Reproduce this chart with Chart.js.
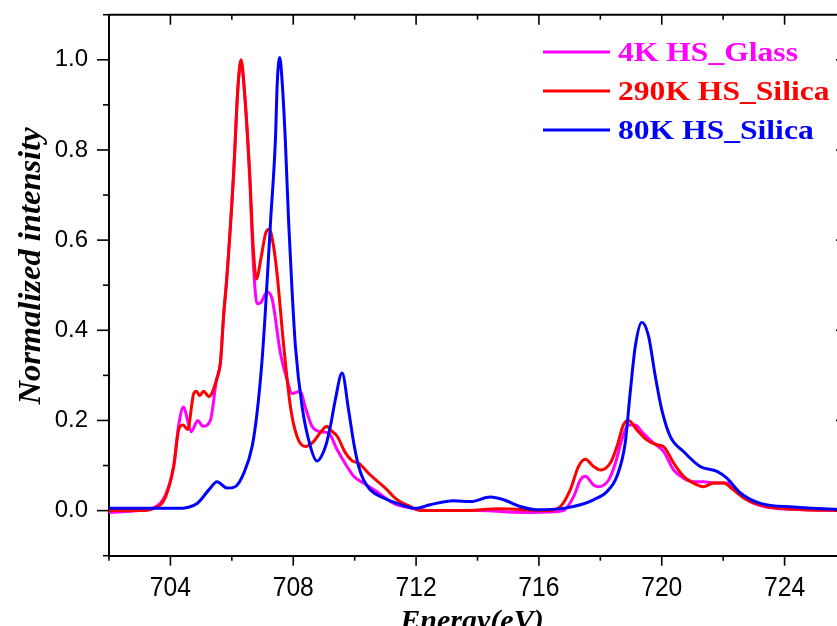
<!DOCTYPE html>
<html>
<head>
<meta charset="utf-8">
<script src="https://cdn.jsdelivr.net/npm/chart.js@4/dist/chart.umd.min.js"></script>
<style>
  html, body { margin: 0; padding: 0; background: #fff; overflow: hidden; }
</style>
</head>
<body>
<canvas id="chart" width="860" height="626"></canvas>
<script>
// Series labels and colours (legend order).
const seriesLabels = ['4K HS_Glass', '290K HS_Silica', '80K HS_Silica'];
const seriesColors = ['#ff00ff', '#ff0000', '#0000ff'];

// Axis tick labels.
const xTicks = [704, 708, 712, 716, 720, 724];
const yTicks = [0.0, 0.2, 0.4, 0.6, 0.8, 1.0];

// 4K HS_Glass, energy (eV) and normalized intensity.
const glassE = [702.0, 703.0, 703.46, 703.84, 704.11, 704.27, 704.43, 704.56, 704.68, 704.89,
  705.06, 705.3, 705.5, 705.63, 705.74, 705.83, 706.06, 706.2, 706.3, 706.4,
  706.58, 706.7, 706.82, 706.95, 707.15, 707.31, 707.58, 707.8, 707.96, 708.23,
  708.39, 708.61, 708.88, 709.15, 709.43, 709.75, 709.97, 710.29, 710.73, 711.27,
  711.81, 712.5, 714.0, 715.5, 716.3, 716.8, 717.13, 717.35, 717.51, 717.78,
  717.94, 718.27, 718.49, 718.7, 718.92, 719.14, 719.35, 719.73, 720.06, 720.39,
  720.71, 721.04, 721.36, 721.79, 722.12, 722.44, 722.88, 723.74, 726.0];
const glassI = [-0.004, 0.0, 0.006, 0.035, 0.1, 0.19, 0.23, 0.2, 0.175, 0.2,
  0.187, 0.2, 0.29, 0.33, 0.44, 0.51, 0.75, 0.94, 0.995, 0.94,
  0.74, 0.55, 0.459, 0.462, 0.485, 0.47, 0.35, 0.29, 0.26, 0.265,
  0.23, 0.187, 0.175, 0.172, 0.135, 0.098, 0.076, 0.061, 0.042, 0.016,
  0.006, 0.0, 0.0, -0.004, -0.003, 0.0, 0.031, 0.068, 0.076, 0.057,
  0.053, 0.068, 0.105, 0.157, 0.19, 0.19, 0.175, 0.15, 0.131, 0.09,
  0.072, 0.064, 0.064, 0.061, 0.061, 0.046, 0.02, 0.005, 0.0];

// 290K HS_Silica
const hotE = [702.0, 703.0, 703.46, 703.84, 704.11, 704.27, 704.41, 704.56, 704.76, 704.85,
  704.95, 705.08, 705.25, 705.5, 705.63, 705.74, 705.83, 706.06, 706.2, 706.3,
  706.4, 706.58, 706.7, 706.8, 706.95, 707.1, 707.22, 707.35, 707.47, 707.69,
  707.91, 708.12, 708.39, 708.66, 708.9, 709.1, 709.21, 709.43, 709.7, 709.91,
  710.13, 710.51, 711.0, 711.38, 711.81, 712.14, 713.5, 714.7, 716.3, 716.7,
  717.02, 717.29, 717.51, 717.78, 718.0, 718.32, 718.54, 718.75, 718.92, 719.19,
  719.51, 719.84, 720.06, 720.39, 720.71, 721.15, 721.36, 721.68, 722.01, 722.33,
  722.77, 723.42, 724.29, 726.0];
const hotI = [0.0, 0.0, 0.005, 0.03, 0.1, 0.18, 0.19, 0.18, 0.26, 0.265,
  0.255, 0.265, 0.253, 0.29, 0.33, 0.44, 0.51, 0.75, 0.94, 1.0,
  0.94, 0.75, 0.58, 0.514, 0.56, 0.615, 0.624, 0.59, 0.527, 0.365,
  0.23, 0.165, 0.142, 0.153, 0.175, 0.187, 0.179, 0.165, 0.128, 0.111,
  0.105, 0.079, 0.05, 0.024, 0.009, 0.0, 0.0, 0.004, 0.0, 0.009,
  0.046, 0.098, 0.114, 0.098, 0.09, 0.105, 0.142, 0.19, 0.2, 0.179,
  0.157, 0.146, 0.142, 0.105, 0.076, 0.057, 0.053, 0.061, 0.061, 0.046,
  0.024, 0.009, 0.003, 0.0];

// 80K HS_Silica
const coldE = [702.0, 703.0, 704.22, 704.87, 705.25, 705.52, 705.84, 706.11, 706.39, 706.66,
  706.82, 706.98, 707.09, 707.26, 707.42, 707.48, 707.56, 707.64, 707.74, 707.85,
  707.96, 708.07, 708.29, 708.56, 708.77, 709.05, 709.21, 709.37, 709.59, 709.8,
  709.97, 710.13, 710.29, 710.51, 710.94, 711.38, 711.97, 712.46, 713.22, 713.77,
  714.42, 714.85, 715.39, 715.94, 716.8, 717.35, 717.78, 718.21, 718.54, 718.81,
  718.97, 719.14, 719.35, 719.57, 719.79, 720.0, 720.28, 720.71, 721.25, 721.8,
  722.12, 722.56, 723.21, 724.29, 726.0];
const coldI = [0.005, 0.005, 0.005, 0.016, 0.046, 0.064, 0.05, 0.053, 0.083, 0.142,
  0.216, 0.33, 0.44, 0.64, 0.824, 0.95, 1.005, 0.95, 0.824, 0.64,
  0.49, 0.365, 0.23, 0.142, 0.11, 0.142, 0.187, 0.246, 0.305, 0.224,
  0.15, 0.098, 0.068, 0.046, 0.028, 0.016, 0.005, 0.013, 0.022, 0.02,
  0.03, 0.024, 0.009, 0.002, 0.005, 0.013, 0.024, 0.042, 0.076, 0.15,
  0.26, 0.365, 0.418, 0.387, 0.298, 0.224, 0.164, 0.131, 0.098, 0.087,
  0.072, 0.039, 0.016, 0.008, 0.002];

function toPoints(es, vs) {
    return es.map((e, i) => ({ x: e, y: vs[i] }));
}

const serif = '"Liberation Serif", "Times New Roman", serif';
const sans = '"Liberation Sans", Arial, sans-serif';

// Box, minor/major ticks, x tick labels, axis titles and the legend.
const frame = {
    id: 'frame',
    afterDraw(chart) {
        const ctx = chart.ctx;
        const a = chart.chartArea;
        const x = chart.scales.x;
        const y = chart.scales.y;
        const seg = (x0, y0, x1, y1) => { ctx.beginPath(); ctx.moveTo(x0, y0); ctx.lineTo(x1, y1); ctx.stroke(); };
        ctx.save();
        ctx.strokeStyle = '#000';
        ctx.lineWidth = 2;
        seg(a.left, a.top, a.right, a.top);
        seg(a.right, a.top, a.right, a.bottom);

        ctx.lineWidth = 1.6;
        for (let e = 702; e <= 726; e += 2) {
            const px = x.getPixelForValue(e);
            const major = e % 4 === 0;
            seg(px, a.bottom, px, a.bottom + (major ? 10 : 5));
            seg(px, a.top, px, a.top + (major ? 10 : 5));
        }
        for (let k = -1; k <= 11; k++) {
            const py = y.getPixelForValue(k / 10);
            const major = k % 2 === 0;
            seg(a.left - (major ? 12 : 6), py, a.left, py);
            seg(a.right - (major ? 10 : 5), py, a.right, py);
        }

        // x tick labels
        ctx.fillStyle = '#000';
        ctx.font = '26px ' + sans;
        ctx.textAlign = 'center';
        ctx.textBaseline = 'alphabetic';
        xTicks.forEach(v => {
            ctx.save();
            ctx.translate(x.getPixelForValue(v), 596);
            ctx.scale(0.95, 1.05);
            ctx.fillText(String(v), 0, 0);
            ctx.restore();
        });

        // axis titles
        ctx.font = 'bold italic 30px ' + serif;
        ctx.fillText('Energy(eV)', 472, 630);
        ctx.save();
        ctx.translate(40, 266);
        ctx.rotate(-Math.PI / 2);
        ctx.font = 'bold italic 32.5px ' + serif;
        ctx.fillText('Normalized intensity', 0, 0);
        ctx.restore();

        // legend
        ctx.font = 'bold 27px ' + serif;
        ctx.textAlign = 'left';
        chart.data.datasets.forEach((ds, i) => {
            const ly = 52 + i * 39;
            ctx.strokeStyle = ds.borderColor;
            ctx.lineWidth = 3;
            seg(543, ly, 610, ly);
            ctx.fillStyle = ds.borderColor;
            ctx.save();
            ctx.translate(618, ly + 9);
            ctx.scale(1.17, 1);
            ctx.fillText(ds.label, 0, 0);
            ctx.restore();
        });
        ctx.restore();
    }
};

const series = [toPoints(glassE, glassI), toPoints(hotE, hotI), toPoints(coldE, coldI)];
const drawOrder = [2, 1, 0];

new Chart(document.getElementById('chart'), {
    type: 'line',
    data: {
        datasets: series.map((pts, i) => ({
            label: seriesLabels[i],
            data: pts,
            borderColor: seriesColors[i],
            backgroundColor: seriesColors[i],
            borderWidth: 3,
            pointRadius: 0,
            fill: false,
            cubicInterpolationMode: 'monotone',
            order: drawOrder[i]
        }))
    },
    options: {
        responsive: false,
        animation: false,
        layout: { padding: { left: 0, top: 14.7, right: 14, bottom: 0 } },
        plugins: {
            legend: { display: false },
            tooltip: { enabled: false }
        },
        scales: {
            x: {
                type: 'linear',
                min: 702,
                max: 726,
                afterBuildTicks: s => { s.ticks = xTicks.map(v => ({ value: v })); },
                afterFit: s => { s.height = 70.3; s.paddingLeft = 0; s.paddingRight = 0; },
                grid: { drawOnChartArea: false, drawTicks: false },
                border: { color: '#000', width: 2 },
                ticks: { display: false }
            },
            y: {
                min: -0.1,
                max: 1.1,
                afterBuildTicks: s => { s.ticks = yTicks.map(v => ({ value: v })); },
                afterFit: s => { s.width = 109; s.paddingTop = 0; s.paddingBottom = 0; },
                grid: { drawOnChartArea: false, drawTicks: false },
                border: { color: '#000', width: 2 },
                ticks: {
                    color: '#000',
                    padding: 21,
                    font: { family: sans, size: 24 },
                    callback: v => v.toFixed(1)
                }
            }
        }
    },
    plugins: [frame]
});
</script>
</body>
</html>
